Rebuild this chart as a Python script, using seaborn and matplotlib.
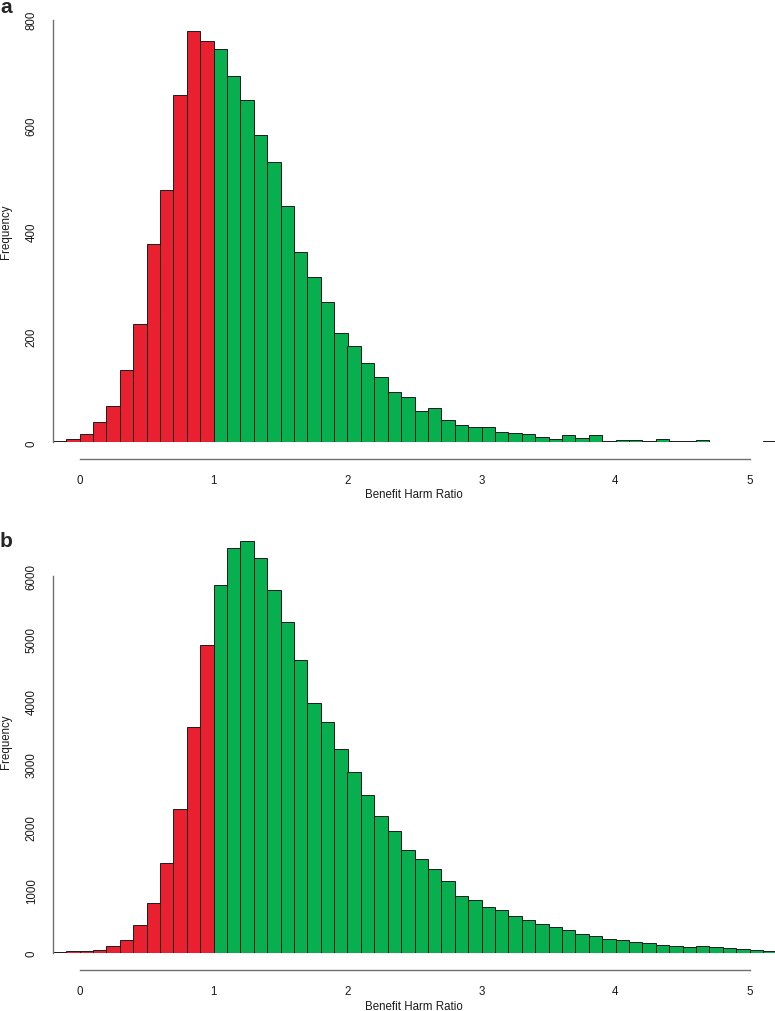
import numpy as np
import pandas as pd
import matplotlib
matplotlib.use('Agg')
import matplotlib.pyplot as plt
import seaborn as sns

# bin left edges run from -0.2 in steps of 0.1
bin_start = -0.2
bin_width = 0.1

# panel a counts, one per bin (-0.2 ... 5.1)
counts_a = [3, 6, 16, 38, 69, 137, 224, 375, 478, 658, 779, 760,
            744, 693, 648, 582, 531, 447, 360, 312, 266, 206, 182, 150,
            124, 96, 85, 59, 64, 43, 33, 29, 29, 19, 17, 16, 10, 6,
            14, 8, 13, 3, 4, 4, 2, 6, 2, 2, 4, 1, 0, 1, 0, 2]

# panel b counts, same bins
counts_b = [8, 22, 35, 48, 103, 210, 440, 787, 1426, 2284, 3600, 4894,
            5846, 6440, 6556, 6275, 5774, 5257, 4662, 3980, 3666, 3242, 2873, 2505,
            2174, 1938, 1635, 1486, 1332, 1139, 903, 835, 733, 678, 589, 515,
            451, 403, 355, 292, 260, 215, 205, 168, 149, 130, 104, 98,
            106, 85, 69, 53, 37, 32]

yticks_a = [0, 200, 400, 600, 800]
yticks_b = [0, 1000, 2000, 3000, 4000, 5000, 6000]
xticks = [0, 1, 2, 3, 4, 5]

red = '#E8202F'
green = '#08AF4E'

sns.set_style('white')
plt.rcParams['font.family'] = ['Liberation Sans', 'DejaVu Sans']

W, H = 775, 1012
fig = plt.figure(figsize=(W / 100, H / 100), dpi=100)

x_left_px = 52.7
px_per_unit = 134.0
xmax = bin_start + (W - x_left_px) / px_per_unit
ax_w_px = W - x_left_px


def make_df(counts):
    n = len(counts)
    left = bin_start + bin_width * np.arange(n)
    df = pd.DataFrame({'mid': np.round(left + bin_width / 2, 3), 'count': counts})
    df['harm'] = df['mid'] < 1.0
    return df


def draw_panel(ax, counts, yticks, ylim_top):
    df = make_df(counts)
    n = len(counts)
    edges = [round(bin_start + bin_width * i, 3) for i in range(n + 1)]
    red_edges = [e for e in edges if e <= 1.0]
    green_edges = [e for e in edges if e >= 1.0]
    sns.histplot(data=df[df['harm']], x='mid', weights='count', bins=red_edges,
                 color=red, alpha=1, edgecolor='#1c1c1c', linewidth=0.7, ax=ax)
    sns.histplot(data=df[~df['harm']], x='mid', weights='count', bins=green_edges,
                 color=green, alpha=1, edgecolor='#1c1c1c', linewidth=0.7, ax=ax)
    ax.set_xlim(bin_start, xmax)
    ax.set_ylim(0, ylim_top)
    ax.set_xticks(xticks)
    ax.set_yticks(yticks)
    ax.set_yticklabels([str(t) for t in yticks], rotation=90, va='center')
    for s in ['top', 'right']:
        ax.spines[s].set_visible(False)
    ax.spines['left'].set_bounds(yticks[0], yticks[-1])
    ax.spines['bottom'].set_bounds(xticks[0], xticks[-1])
    ax.spines['bottom'].set_position(('outward', 12.2))
    for s in ['left', 'bottom']:
        ax.spines[s].set_color('#707070')
        ax.spines[s].set_linewidth(1.0)
    ax.tick_params(axis='both', direction='out', length=4.5, width=1.0,
                   color='#707070', labelcolor='#1a1a1a', labelsize=8.3, pad=6.3)
    ax.set_xlabel('Benefit Harm Ratio', fontsize=8.3, color='#1a1a1a')
    ax.set_ylabel('Frequency', fontsize=8.3, color='#1a1a1a')
    ax.yaxis.set_label_coords((12.5 - x_left_px) / ax_w_px, 0.5)
    ax.grid(False)


def fig_rect(top_px, bottom_px):
    return [x_left_px / W, 1 - bottom_px / H, ax_w_px / W, (bottom_px - top_px) / H]


# panel a: 0 at y=443.3 px, 800 at y=20.7 px
a_top_px, a_base_px = 20.7, 443.3
ax_a = fig.add_axes(fig_rect(a_top_px, a_base_px))
draw_panel(ax_a, counts_a, yticks_a, 800)
ax_a.xaxis.set_label_coords(0.5, -(489 - a_base_px) / (a_base_px - a_top_px))

# panel b: 0 at y=953.7 px, 6000 at y=576.7 px
b_scale = (953.7 - 576.7) / 6000
b_top_px, b_base_px = 530, 953.7
ax_b = fig.add_axes(fig_rect(b_top_px, b_base_px))
draw_panel(ax_b, counts_b, yticks_b, (b_base_px - b_top_px) / b_scale)
ax_b.xaxis.set_label_coords(0.5, -(1001 - b_base_px) / (b_base_px - b_top_px))

fig.text(0.0, 1 - 13 / H, 'a', fontsize=15, fontweight='bold', va='baseline', ha='left')
fig.text(0.0, 1 - 547 / H, 'b', fontsize=15, fontweight='bold', va='baseline', ha='left')

fig.savefig('out.png', dpi=100)
